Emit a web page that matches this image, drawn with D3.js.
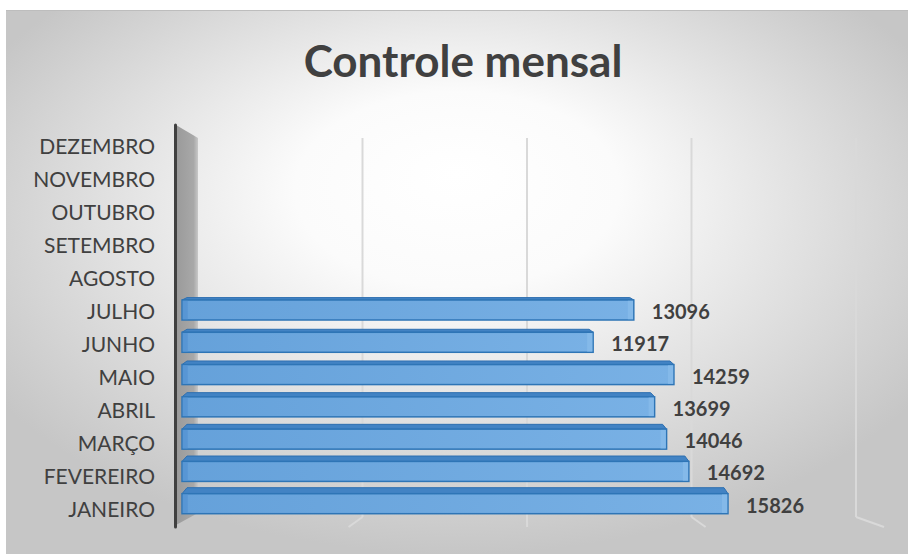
<!DOCTYPE html>
<html>
<head>
<meta charset="utf-8">
<script src="https://cdn.jsdelivr.net/npm/d3@7"></script>
<style>
  body { margin: 0; background: #fff; }
  text { font-family: Lato, "Open Sans", sans-serif; }
</style>
</head>
<body>
<script>
// data
var meses = ['JANEIRO', 'FEVEREIRO', 'MARÇO', 'ABRIL', 'MAIO', 'JUNHO',
             'JULHO', 'AGOSTO', 'SETEMBRO', 'OUTUBRO', 'NOVEMBRO', 'DEZEMBRO'];
var valores = [15826, 14692, 14046, 13699, 14259, 11917, 13096];
var gridTicks = [5000, 10000, 15000, 20000];
var titulo = 'Controle mensal';

var W = 908, H = 554;

var svg = d3.select('body').append('svg')
  .attr('width', W)
  .attr('height', H);

var defs = svg.append('defs');

var bg = defs.append('radialGradient')
  .attr('id', 'bg')
  .attr('cx', 0.5).attr('cy', 0.4).attr('r', 0.6)
  .attr('fx', 0.5).attr('fy', 0.3);
bg.append('stop').attr('offset', 0).attr('stop-color', '#ffffff');
bg.append('stop').attr('offset', 0.3).attr('stop-color', '#fbfbfb');
bg.append('stop').attr('offset', 1).attr('stop-color', '#c6c6c6');

var wall = defs.append('linearGradient').attr('id', 'wall');
wall.append('stop').attr('offset', 0).attr('stop-color', '#9a9a9a');
wall.append('stop').attr('offset', 0.8).attr('stop-color', '#a8a8a8');
wall.append('stop').attr('offset', 1).attr('stop-color', '#c8c8c8');

var face = defs.append('linearGradient').attr('id', 'face');
face.append('stop').attr('offset', 0).attr('stop-color', '#65a1da');
face.append('stop').attr('offset', 1).attr('stop-color', '#79b1e5');

// chart area
svg.append('rect')
  .attr('x', 6).attr('y', 10)
  .attr('width', W - 6).attr('height', H - 10)
  .attr('fill', 'url(#bg)');
svg.append('line')
  .attr('x1', 6).attr('x2', W).attr('y1', 10.5).attr('y2', 10.5)
  .attr('stroke', '#bdbdbd');

// title
svg.append('text')
  .attr('x', 463).attr('y', 77)
  .attr('text-anchor', 'middle')
  .attr('font-size', 44)
  .attr('font-weight', 'bold')
  .attr('fill', '#404040')
  .text(titulo);

// scales: front plane for bars, back wall for gridlines (3D perspective)
var x = d3.scaleLinear().domain([0, 20000]).range([182, 872]);
var xBack = d3.scaleLinear().domain([0, 20000]).range([198, 856]);
var yLabel = d3.scalePoint().domain(meses).range([509, 146]);
var yBar = d3.scalePoint().domain(meses).range([503.7, 148.6]);
var vanish = 526;

// gridlines on back wall + floor
var grid = svg.append('g').attr('class', 'grid');
grid.selectAll('line.v')
  .data(gridTicks)
  .enter().append('line')
  .attr('class', 'v')
  .attr('x1', function(d) { return xBack(d); })
  .attr('x2', function(d) { return xBack(d); })
  .attr('y1', 138).attr('y2', 517)
  .attr('stroke', '#d9d9d9')
  .attr('stroke-width', 2);
grid.selectAll('line.f')
  .data(gridTicks)
  .enter().append('line')
  .attr('class', 'f')
  .attr('x1', function(d) { return xBack(d); })
  .attr('x2', function(d) { return xBack(d) + (xBack(d) - vanish) * 0.085; })
  .attr('y1', 517).attr('y2', 527)
  .attr('stroke', '#d9d9d9')
  .attr('stroke-width', 2);

// side wall and axis
svg.append('polygon')
  .attr('points', '176,125 198,138 198,513 176,525')
  .attr('fill', 'url(#wall)');
svg.append('line')
  .attr('x1', 175.5).attr('x2', 175.5)
  .attr('y1', 125).attr('y2', 527)
  .attr('stroke', '#404040')
  .attr('stroke-width', 3)
  .attr('stroke-linecap', 'round');

// category labels
svg.append('g')
  .selectAll('text')
  .data(meses)
  .enter().append('text')
  .attr('x', 155)
  .attr('y', function(d) { return yLabel(d) + 7.5; })
  .attr('text-anchor', 'end')
  .attr('font-size', 21)
  .attr('fill', '#404040')
  .text(function(d) { return d; });

// bars
var barH = 20;
var bars = svg.append('g')
  .selectAll('g')
  .data(valores)
  .enter().append('g');

function barTop(d, i) { return yBar(meses[i]) - barH / 2; }
function depth(i) { return 6 - i * 0.6; }

bars.append('polygon')
  .attr('points', function(d, i) {
    var y0 = barTop(d, i), t = depth(i), x0 = x(0), x1 = x(d);
    return [[x0, y0], [x0 + 5, y0 - t], [x1 - 4, y0 - t], [x1, y0]].join(' ');
  })
  .attr('fill', '#4283c4')
  .attr('stroke', '#2e6fb0')
  .attr('stroke-width', 1);

bars.append('rect')
  .attr('x', x(0))
  .attr('y', function(d, i) { return barTop(d, i); })
  .attr('width', function(d) { return x(d) - x(0); })
  .attr('height', barH)
  .attr('fill', 'url(#face)')
  .attr('stroke', '#2e75b6')
  .attr('stroke-width', 1.5);

bars.append('rect')
  .attr('x', x(0) + 0.75)
  .attr('y', function(d, i) { return barTop(d, i) + 0.75; })
  .attr('width', 5)
  .attr('height', barH - 1.5)
  .attr('fill', '#5594d2')
  .attr('opacity', 0.8);

bars.append('rect')
  .attr('x', function(d) { return x(d) - 6; })
  .attr('y', function(d, i) { return barTop(d, i) + 0.75; })
  .attr('width', 5.25)
  .attr('height', barH - 1.5)
  .attr('fill', '#86bbea')
  .attr('opacity', 0.85);

// value labels
bars.append('text')
  .attr('x', function(d) { return x(d) + 18; })
  .attr('y', function(d, i) { return yBar(meses[i]) + 9; })
  .attr('font-size', 20)
  .attr('font-weight', 'bold')
  .attr('fill', '#404040')
  .text(function(d) { return d; });
</script>
</body>
</html>
